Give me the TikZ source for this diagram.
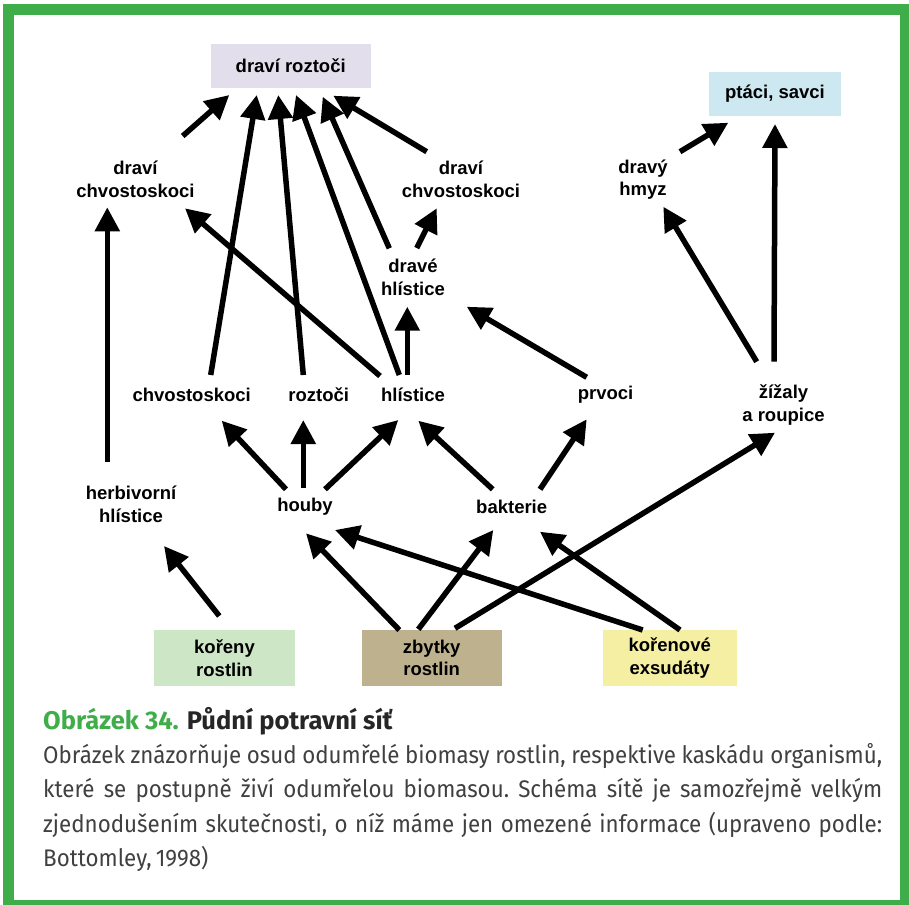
\documentclass[tikz,border=0pt]{standalone}
\usepackage{fontspec}
\setmainfont{Liberation Sans}
\newfontfamily\capfont[FakeStretch=0.93,WordSpace=0.7]{Fira Sans}
\newfontfamily\captitlefont{Fira Sans}
\usetikzlibrary{arrows.meta,calc}

\definecolor{framegreen}{HTML}{3FAE4A}
\definecolor{lavender}{HTML}{E3DEEC}
\definecolor{skyblue}{HTML}{CDE8F1}
\definecolor{rootgreen}{HTML}{CDE6C6}
\definecolor{litter}{HTML}{BDB28D}
\definecolor{exudate}{HTML}{F4EFA3}
\definecolor{captext}{HTML}{404040}

\tikzset{
  label/.style={font=\bfseries\fontsize{18.5}{22.7}\selectfont, align=center, inner sep=0pt},
  sourcebox/.style={label, minimum width=140pt, minimum height=56pt},
  feed/.style={line width=5.5pt, -{Triangle[length=24pt,width=24pt]}},
  capline/.style={anchor=base west, inner sep=0pt, text=captext,
    font=\capfont\fontsize{24}{34}\selectfont\frenchspacing},
}

\begin{document}
\begin{tikzpicture}[x=1pt,y=-1pt]
\useasboundingbox (0,0) rectangle (909,904);
\fill[white] (0,0) rectangle (909,904);
\draw[framegreen, line width=11pt] (8.5,9.5) rectangle (905.5,905.5);

% top consumers
\node[label, fill=lavender, minimum width=160pt, minimum height=43.4pt] (dr) at (290.7,66) {draví roztoči};
\node[label, fill=skyblue, minimum width=131.4pt, minimum height=44.3pt] (ps) at (775,93.8) {ptáci, savci};

% predators
\node[label] (dchL) at (135.5,179.5) {draví\\chvostoskoci};
\node[label] (dchR) at (461,179.5) {draví\\chvostoskoci};
\node[label] (dhm) at (643,179.5) {dravý\\hmyz};
\node[label] (dh) at (413,277.5) {dravé\\hlístice};

% grazers
\node[label] (chv) at (191.7,395) {chvostoskoci};
\node[label] (roz) at (318.7,395) {roztoči};
\node[label] (hl) at (413,395) {hlístice};
\node[label] (prv) at (605.5,395) {prvoci};
\node[label] (zz) at (783.5,405) {žížaly\\a roupice};

% decomposers and herbivores
\node[label] (hh) at (131,504) {herbivorní\\hlístice};
\node[label] (hou) at (305,507) {houby};
\node[label] (bak) at (511.7,507) {bakterie};

% sources
\node[sourcebox, fill=rootgreen, minimum width=141pt] (kr) at (224.5,658) {kořeny\\rostlin};
\node[sourcebox, fill=litter] (zr) at (431.7,658) {zbytky\\rostlin};
\node[sourcebox, fill=exudate, minimum width=134pt] (ke) at (669.7,658) {kořenové\\exsudáty};

% links into predatory mites
\draw[feed] ($(dchL)+(47.2,-43.5)$) -- ($(dr)+(-61.4,29)$);
\draw[feed] ($(chv)+(19,-20)$) -- ($(dr)+(-34,29)$);
\draw[feed] ($(roz)+(-15.4,-20)$) -- ($(dr)+(-12.4,29)$);
\draw[feed] ($(hl)+(-13.7,-20)$) -- ($(dr)+(5.3,29)$);
\draw[feed] ($(dh)+(-23.7,-29.2)$) -- ($(dr)+(32,30.7)$);
\draw[feed] ($(dchR)+(-34.3,-27.8)$) -- ($(dr)+(42.6,29.7)$);

% other predator links
\draw[feed] ($(hl)+(-33,-19)$) -- ($(dchL)+(49.5,28.8)$);
\draw[feed] ($(dh)+(3.7,-29.5)$) -- ($(dchR)+(-24.3,28.8)$);
\draw[feed] ($(hl)+(-5.7,-20)$) -- ($(dh)+(-5.7,29.2)$);
\draw[feed] ($(prv)+(-18.8,-17.7)$) -- ($(dh)+(53.7,29.2)$);
\draw[feed] ($(hh)+(-23.7,-42.3)$) -- ($(dchL)+(-28.2,27.8)$);
\draw[feed] ($(zz)+(-26.8,-43.3)$) -- ($(dhm)+(20.3,27.2)$);
\draw[feed] ($(zz)+(-9.5,-43.3)$) -- ($(ps)+(0,30.2)$);
\draw[feed] ($(dhm)+(37,-27.8)$) -- ($(ps)+(-46.7,28.9)$);

% microbial grazers
\draw[feed] ($(hou)+(-19,-17.7)$) -- ($(chv)+(30,25.7)$);
\draw[feed] ($(hou)+(-1.7,-18.7)$) -- ($(roz)+(-15.4,25)$);
\draw[feed] ($(hou)+(20,-17.7)$) -- ($(hl)+(-14.7,25)$);
\draw[feed] ($(bak)+(-19,-17.7)$) -- ($(hl)+(5.3,25.7)$);
\draw[feed] ($(bak)+(28.3,-17.7)$) -- ($(prv)+(-18.8,24.3)$);

% links from the sources
\draw[feed] ($(kr)+(-5.2,-42)$) -- ($(hh)+(33,42)$);
\draw[feed] ($(zr)+(-32.4,-28)$) -- ($(hou)+(1,26.3)$);
\draw[feed] ($(ke)+(-27,-28)$) -- ($(hou)+(30,23)$);
\draw[feed] ($(zr)+(-13.4,-28.7)$) -- ($(bak)+(-18.4,23)$);
\draw[feed] ($(ke)+(10.3,-28)$) -- ($(bak)+(28.3,24.7)$);
\draw[feed] ($(zr)+(23.3,-29.7)$) -- ($(zz)+(-8.5,27.7)$);

% caption
\node[capline, font=\captitlefont\bfseries\fontsize{25.5}{34}\selectfont] (cap1) at (43,729.3)
  {\textcolor{framegreen}{Obrázek 34.} \textcolor{black!85}{Půdní potravní síť}};
\node[capline] (cap2) at (43,763.5) {\makebox[839pt][s]{Obrázek znázorňuje osud odumřelé biomasy rostlin, respektive kaskádu organismů,}};
\node[capline] (cap3) at (43,797.8) {\makebox[839pt][s]{které se postupně živí odumřelou biomasou. Schéma sítě je samozřejmě velkým}};
\node[capline] (cap4) at (43,832.2) {\makebox[839pt][s]{zjednodušením skutečnosti, o níž máme jen omezené informace (upraveno podle:}};
\node[capline] (cap5) at (43,866.5) {Bottomley, 1998)};
\end{tikzpicture}
\end{document}
